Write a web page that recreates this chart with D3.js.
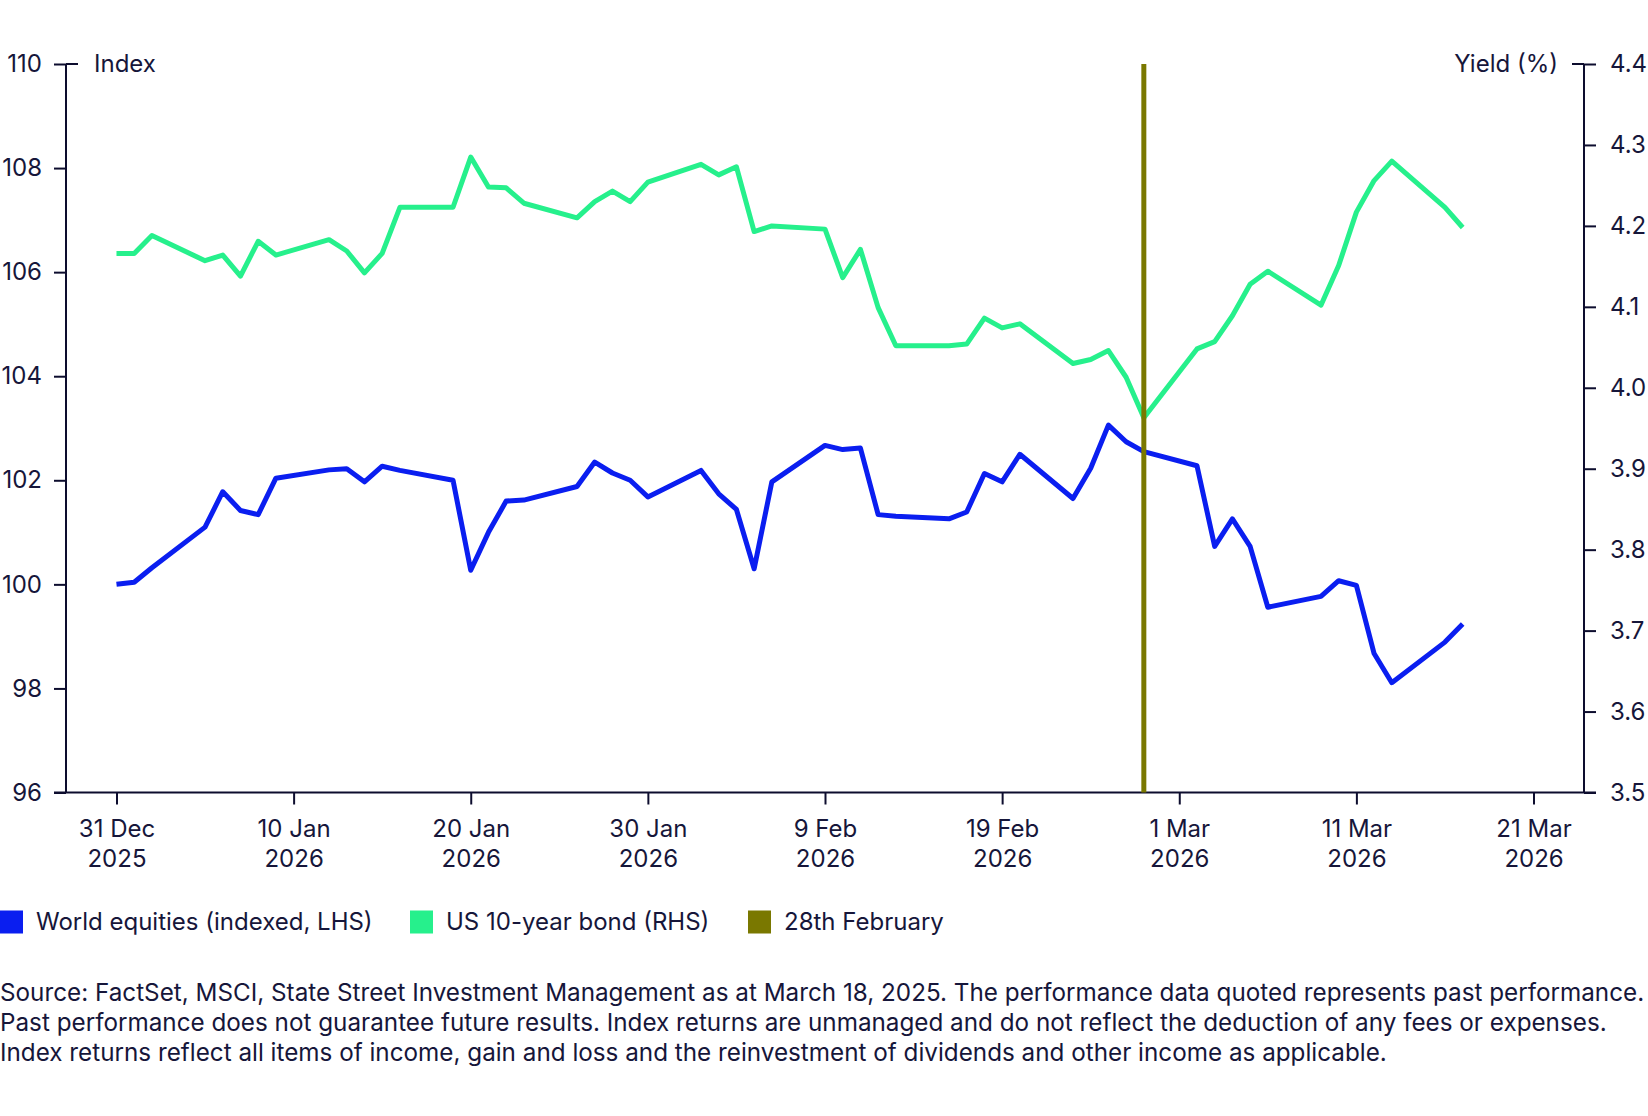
<!DOCTYPE html>
<html>
<head>
<meta charset="utf-8">
<script src="https://cdn.jsdelivr.net/npm/d3@7"></script>
<style>
  html, body { margin: 0; padding: 0; background: #ffffff; }
  svg { display: block; font-family: Inter, "Noto Sans", sans-serif; }
</style>
</head>
<body>
<svg id="chart" width="1648" height="1116"></svg>
<script>
// ---- Data ----
const dates = [
  "2025-12-31","2026-01-01","2026-01-02","2026-01-05","2026-01-06","2026-01-07","2026-01-08","2026-01-09",
  "2026-01-12","2026-01-13","2026-01-14","2026-01-15","2026-01-16","2026-01-19","2026-01-20","2026-01-21",
  "2026-01-22","2026-01-23","2026-01-26","2026-01-27","2026-01-28","2026-01-29","2026-01-30","2026-02-02",
  "2026-02-03","2026-02-04","2026-02-05","2026-02-06","2026-02-09","2026-02-10","2026-02-11","2026-02-12",
  "2026-02-13","2026-02-16","2026-02-17","2026-02-18","2026-02-19","2026-02-20","2026-02-23","2026-02-24",
  "2026-02-25","2026-02-26","2026-02-27","2026-03-02","2026-03-03","2026-03-04","2026-03-05","2026-03-06",
  "2026-03-09","2026-03-10","2026-03-11","2026-03-12","2026-03-13","2026-03-16","2026-03-17"
];
const worldEquities = [
  100.00,100.04,100.32,101.10,101.78,101.42,101.34,102.04,
  102.20,102.22,101.97,102.27,102.19,102.00,100.27,101.00,
  101.60,101.62,101.88,102.35,102.14,102.00,101.68,102.19,
  101.74,101.44,100.30,101.97,102.67,102.59,102.62,101.34,
  101.31,101.26,101.39,102.13,101.97,102.50,101.65,102.23,
  103.06,102.74,102.55,102.28,100.73,101.26,100.73,99.56,
  99.77,100.07,99.98,98.67,98.11,98.89,99.24
];
const us10yYield = [
  4.166,4.166,4.188,4.157,4.164,4.138,4.181,4.164,
  4.183,4.169,4.142,4.166,4.223,4.223,4.285,4.248,
  4.247,4.228,4.210,4.230,4.243,4.230,4.254,4.276,
  4.263,4.273,4.193,4.200,4.196,4.136,4.171,4.099,
  4.052,4.052,4.054,4.086,4.074,4.079,4.030,4.035,
  4.046,4.013,3.963,4.048,4.057,4.089,4.128,4.144,
  4.102,4.151,4.217,4.256,4.280,4.223,4.198
];
const markerDate = "2026-02-27";
const xTickDates = ["2025-12-31","2026-01-10","2026-01-20","2026-01-30","2026-02-09","2026-02-19","2026-03-01","2026-03-11","2026-03-21"];
const xTickLabels = [["31 Dec","2025"],["10 Jan","2026"],["20 Jan","2026"],["30 Jan","2026"],["9 Feb","2026"],["19 Feb","2026"],["1 Mar","2026"],["11 Mar","2026"],["21 Mar","2026"]];
const leftTicks = [96, 98, 100, 102, 104, 106, 108, 110];
const rightTicks = [3.5, 3.6, 3.7, 3.8, 3.9, 4.0, 4.1, 4.2, 4.3, 4.4];
const legendItems = ["World equities (indexed, LHS)", "US 10-year bond (RHS)", "28th February"];
const footnote = [
  "Source: FactSet, MSCI, State Street Investment Management as at March 18, 2025. The performance data quoted represents past performance.",
  "Past performance does not guarantee future results. Index returns are unmanaged and do not reflect the deduction of any fees or expenses.",
  "Index returns reflect all items of income, gain and loss and the reinvestment of dividends and other income as applicable."
];

// ---- Layout / style ----
const COL = { blue: "#0a1ef0", green: "#26f08c", olive: "#7a7800", axis: "#0d0d2e", text: "#16163a" };
const plot = { left: 66, right: 1584, top: 64, bottom: 792.5 };
const FS = 24;

const parse = d3.utcParse("%Y-%m-%d");
const DAY = 86400000;
const dec31 = parse("2025-12-31").getTime();

const svg = d3.select("#chart");
svg.append("rect").attr("width", 1648).attr("height", 1116).attr("fill", "#fff");

const x = d3.scaleUtc()
  .domain([new Date(dec31 - 2.85 * DAY), new Date(dec31 + 82.85 * DAY)])
  .range([plot.left, plot.right]);
const yL = d3.scaleLinear().domain([96, 110]).range([plot.bottom, plot.top]);
const yR = d3.scaleLinear().domain([3.5, 4.4]).range([plot.bottom, plot.top]);

const data = dates.map((d, i) => ({ date: parse(d), eq: worldEquities[i], yld: us10yYield[i] }));

// Axes
const gL = svg.append("g").attr("transform", `translate(${plot.left},0)`)
  .call(d3.axisLeft(yL).tickValues(leftTicks).tickFormat(d3.format("d")).tickSize(12).tickPadding(12));
const gR = svg.append("g").attr("transform", `translate(${plot.right},0)`)
  .call(d3.axisRight(yR).tickValues(rightTicks).tickFormat(d3.format(".1f")).tickSize(12).tickPadding(14));
const gX = svg.append("g").attr("transform", `translate(0,${plot.bottom})`)
  .call(d3.axisBottom(x).tickValues(xTickDates.map(parse)).tickSize(12).tickFormat(""));

[gL, gR, gX].forEach(g => {
  g.select(".domain").remove();
  g.selectAll(".tick line").attr("stroke", COL.axis).attr("stroke-width", 2);
  g.selectAll(".tick text").attr("fill", COL.text).style("font-size", FS + "px").style("font-family", "Inter");
});

// axis lines
svg.append("line").attr("x1", plot.left).attr("x2", plot.left).attr("y1", plot.top).attr("y2", plot.bottom)
  .attr("stroke", COL.axis).attr("stroke-width", 2);
svg.append("line").attr("x1", plot.right).attr("x2", plot.right).attr("y1", plot.top).attr("y2", plot.bottom)
  .attr("stroke", COL.axis).attr("stroke-width", 2);
svg.append("line").attr("x1", plot.left - 12).attr("x2", plot.right + 12).attr("y1", plot.bottom).attr("y2", plot.bottom)
  .attr("stroke", COL.axis).attr("stroke-width", 2);
// top caps
svg.append("line").attr("x1", plot.left).attr("x2", plot.left + 12).attr("y1", plot.top).attr("y2", plot.top)
  .attr("stroke", COL.axis).attr("stroke-width", 2);
svg.append("line").attr("x1", plot.right - 12).attr("x2", plot.right).attr("y1", plot.top).attr("y2", plot.top)
  .attr("stroke", COL.axis).attr("stroke-width", 2);

// x tick labels (two lines)
gX.selectAll(".tick").each(function(d, i) {
  const t = d3.select(this).append("text").attr("fill", COL.text).attr("text-anchor", "middle")
    .style("font-size", FS + "px").style("font-family", "Inter");
  t.append("tspan").attr("x", 0).attr("y", 44).text(xTickLabels[i][0]);
  t.append("tspan").attr("x", 0).attr("y", 74).text(xTickLabels[i][1]);
});

// axis titles
svg.append("text").attr("x", plot.left + 28).attr("y", plot.top).attr("dy", "0.35em")
  .attr("fill", COL.text).style("font-size", FS + "px").text("Index");
svg.append("text").attr("x", plot.right - 26).attr("y", plot.top).attr("dy", "0.35em")
  .attr("text-anchor", "end").attr("fill", COL.text).style("font-size", FS + "px").text("Yield (%)");

// lines
const lineEq = d3.line().x(d => x(d.date)).y(d => yL(d.eq));
const lineY = d3.line().x(d => x(d.date)).y(d => yR(d.yld));
svg.append("path").datum(data).attr("d", lineY).attr("fill", "none")
  .attr("stroke", COL.green).attr("stroke-width", 5).attr("stroke-linejoin", "round");
svg.append("path").datum(data).attr("d", lineEq).attr("fill", "none")
  .attr("stroke", COL.blue).attr("stroke-width", 5).attr("stroke-linejoin", "round");

// marker
const mx = x(parse(markerDate));
svg.append("line").attr("x1", mx).attr("x2", mx).attr("y1", plot.top).attr("y2", plot.bottom)
  .attr("stroke", COL.olive).attr("stroke-width", 5);

// legend
const legendX = [0, 410, 748];
const legendCol = [COL.blue, COL.green, COL.olive];
const lg = svg.append("g").attr("transform", "translate(0,922)");
legendItems.forEach((name, i) => {
  lg.append("rect").attr("x", legendX[i]).attr("y", -11.5).attr("width", 23).attr("height", 23).attr("fill", legendCol[i]);
  lg.append("text").attr("x", legendX[i] + 36).attr("y", 0).attr("dy", "0.35em")
    .attr("fill", COL.text).style("font-size", FS + "px").text(name);
});

// footnote
const fn = svg.append("text").attr("fill", COL.text).style("font-size", "24.25px");
footnote.forEach((line, i) => {
  fn.append("tspan").attr("x", 0).attr("y", 1001 + i * 29.8).text(line);
});
</script>
</body>
</html>
